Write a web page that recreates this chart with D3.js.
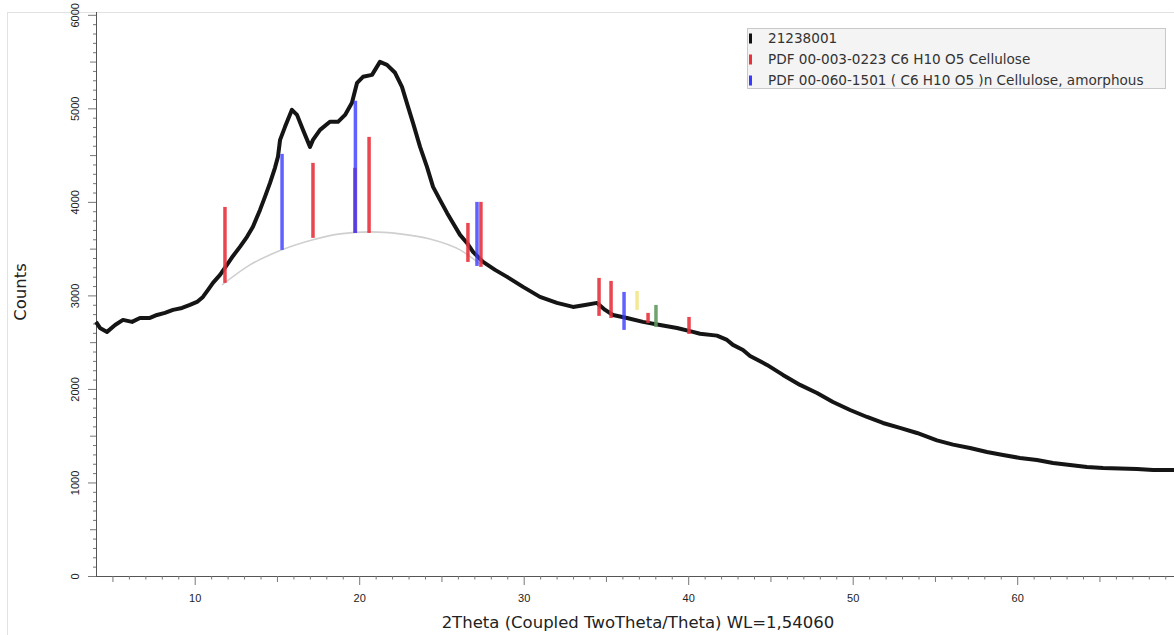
<!DOCTYPE html>
<html>
<head>
<meta charset="utf-8">
<script src="https://cdn.jsdelivr.net/npm/d3@7/dist/d3.min.js"></script>
<style>
  body { margin: 0; background: #fff; }
  svg { display: block; font-family: 'DejaVu Sans', Verdana, sans-serif; }
</style>
</head>
<body>
<div id="chart"></div>
<script>
// measured pattern (2theta in degrees, counts)
const twoTheta = [4.0, 4.24, 4.67, 5.16, 5.64, 6.19, 6.67, 7.28, 7.71, 8.19, 8.68, 9.23, 9.71, 10.14, 10.5, 10.81,
  11.11, 11.54, 11.96, 12.33, 12.75, 13.18, 13.54, 13.97, 14.27, 14.58, 14.88, 15.06, 15.19, 15.49, 15.91, 16.22,
  16.58, 17.01, 17.19, 17.62, 18.22, 18.71, 19.14, 19.56, 19.87, 20.23, 20.78, 21.26, 21.69, 22.18, 22.6, 22.97,
  23.27, 23.7, 24.12, 24.49, 24.91, 25.34, 25.7, 26.13, 26.55, 26.92, 27.53, 28.26, 28.99, 29.96, 30.99, 32.02,
  33.0, 33.73, 34.46, 34.95, 35.43, 36.28, 37.25, 38.29, 39.32, 40.29, 40.72, 41.75, 42.36, 42.72, 43.33, 43.76,
  44.79, 45.76, 46.8, 47.83, 48.8, 49.84, 50.87, 51.84, 52.87, 53.91, 55.12, 56.1, 57.13, 58.16, 59.14,
  60.17, 61.2, 62.18, 63.21, 64.24, 65.22, 66.25, 67.28, 68.26, 69.29, 70.0];
const counts = [2717, 2652, 2610, 2684, 2738, 2717, 2759, 2759, 2791, 2813, 2845, 2866, 2898, 2930, 2984, 3059,
  3134, 3219, 3326, 3422, 3519, 3626, 3733, 3914, 4053, 4203, 4364, 4481, 4663, 4802, 4984, 4930,
  4770, 4588, 4663, 4770, 4856, 4856, 4930, 5059, 5273, 5337, 5358, 5497, 5465, 5380, 5230, 5016,
  4845, 4588, 4374, 4160, 4021, 3882, 3775, 3647, 3561, 3465, 3358, 3273, 3198, 3091, 2984, 2920,
  2877, 2898, 2920, 2845, 2791, 2759, 2717, 2684, 2652, 2610, 2590, 2570, 2524, 2471, 2417, 2353,
  2257, 2150, 2043, 1957, 1861, 1775, 1700, 1636, 1583, 1529, 1450, 1405, 1369, 1326, 1294,
  1262, 1241, 1209, 1187, 1166, 1155, 1150, 1144, 1134, 1134, 1130];

// amorphous background hump
const bgTheta = [11.66, 13.36, 15.31, 17.19, 18.83, 20.66, 22.48, 24.3, 26.13, 27.34];
const bgCounts = [3112, 3326, 3487, 3594, 3658, 3679, 3658, 3604, 3487, 3337];

// PDF 00-003-0223 Cellulose sticks
const cellPos = [11.84, 17.19, 19.74, 20.6, 26.61, 27.4, 34.58, 35.31, 37.56, 40.05];
const cellBase = [3134, 3615, 3668, 3668, 3358, 3305, 2781, 2759, 2706, 2588];
const cellTop = [3946, 4417, 4364, 4695, 3775, 4000, 3187, 3155, 2813, 2770];

// PDF 00-060-1501 amorphous cellulose sticks
const amorPos = [15.31, 19.77, 27.16, 36.1];
const amorBase = [3487, 3668, 3315, 2631];
const amorTop = [4513, 5080, 4000, 3037];

// faint extra sticks
const extraPos = [36.89, 38.04];
const extraBase = [2845, 2663];
const extraTop = [3048, 2898];
const extraColors = ['#f3e58a', '#5f9a5f'];

const legendLabels = ['21238001', 'PDF 00-003-0223 C6 H10 O5 Cellulose',
  'PDF 00-060-1501 ( C6 H10 O5 )n Cellulose, amorphous'];
const legendColors = ['#111', '#e8323c', '#3a3aff'];

const xTitle = '2Theta (Coupled TwoTheta/Theta) WL=1,54060';
const yTitle = 'Counts';

class XrdChart {
  constructor(_config) {
    this.config = {
      parentElement: _config.parentElement,
      containerWidth: 1174,
      containerHeight: 635,
      margin: { top: 12, left: 96, bottom: 59 }
    };
    this.initVis();
  }

  initVis() {
    const vis = this;
    vis.height = vis.config.containerHeight - vis.config.margin.top - vis.config.margin.bottom;

    vis.svg = d3.select(vis.config.parentElement).append('svg')
      .attr('width', vis.config.containerWidth)
      .attr('height', vis.config.containerHeight);

    // outer frame (runs off the right / bottom edge)
    vis.svg.append('rect')
      .attr('x', 7.5).attr('y', 12.5)
      .attr('width', 1400).attr('height', 800)
      .attr('fill', 'none').attr('stroke', '#e2e2e2');

    vis.chartArea = vis.svg.append('g')
      .attr('transform', `translate(${vis.config.margin.left},${vis.config.margin.top})`);

    vis.xScale = d3.scaleLinear().domain([4, 70]).range([0, 66 * 16.45]);
    vis.yScale = d3.scaleLinear().domain([0, 6030]).range([vis.height, 0]);

    vis.renderVis();
  }

  renderVis() {
    const vis = this;
    const x = vis.xScale, y = vis.yScale;

    // axes
    const yg = vis.chartArea.append('g')
      .call(d3.axisLeft(y).tickValues(d3.range(0, 6001, 100)).tickSizeOuter(0)
        .tickFormat(d => d % 1000 === 0 ? d : ''));
    yg.select('.domain').attr('stroke', '#555').attr('d', `M0.5,${vis.height + 1}V0`);
    yg.selectAll('.tick line')
      .attr('stroke', '#777')
      .attr('x2', d => d % 1000 === 0 ? -8 : (d % 500 === 0 ? -6 : -3));
    yg.selectAll('.tick text')
      .attr('transform', 'rotate(-90)')
      .attr('x', 0).attr('y', -21).attr('dy', '0.35em')
      .attr('text-anchor', 'middle')
      .attr('font-size', 11).attr('fill', '#222');

    const xg = vis.chartArea.append('g')
      .attr('transform', `translate(0,${vis.height})`)
      .call(d3.axisBottom(x).tickValues(d3.range(5, 71, 1)).tickSizeOuter(0)
        .tickFormat(d => d % 10 === 0 ? d : ''));
    xg.select('.domain').attr('stroke', '#555');
    xg.selectAll('.tick line')
      .attr('stroke', '#777')
      .attr('y2', d => d % 10 === 0 ? 9 : (d % 5 === 0 ? 6 : 3.5));
    xg.selectAll('.tick text')
      .attr('y', 18).attr('font-size', 11).attr('fill', '#222');

    vis.svg.append('text')
      .attr('x', 638).attr('y', 628)
      .attr('text-anchor', 'middle')
      .attr('font-size', 16.5).attr('fill', '#222')
      .text(xTitle);

    vis.svg.append('text')
      .attr('transform', 'translate(20,292) rotate(-90)')
      .attr('text-anchor', 'middle').attr('dy', '0.35em')
      .attr('font-size', 16.5).attr('fill', '#222')
      .text(yTitle);

    // background hump
    vis.chartArea.append('path')
      .datum(d3.zip(bgTheta, bgCounts))
      .attr('fill', 'none')
      .attr('stroke', '#cfcfcf')
      .attr('stroke-width', 1.6)
      .attr('d', d3.line().x(d => x(d[0])).y(d => y(d[1])).curve(d3.curveMonotoneX));

    // measured scan
    vis.chartArea.append('path')
      .datum(d3.zip(twoTheta, counts))
      .attr('fill', 'none')
      .attr('stroke', '#151515')
      .attr('stroke-width', 4)
      .attr('stroke-linejoin', 'round')
      .attr('d', d3.line().x(d => x(d[0])).y(d => y(d[1])));

    // reference sticks
    const sticks = (pos, base, top, color, opacity) => {
      vis.chartArea.append('g').selectAll('line')
        .data(d3.range(pos.length))
        .join('line')
        .attr('x1', i => x(pos[i])).attr('x2', i => x(pos[i]))
        .attr('y1', i => y(base[i])).attr('y2', i => y(top[i]))
        .attr('stroke', typeof color === 'function' ? (i => color(i)) : color)
        .attr('stroke-opacity', opacity)
        .attr('stroke-width', 3.5);
    };
    sticks(extraPos, extraBase, extraTop, i => extraColors[i], 0.9);
    sticks(cellPos, cellBase, cellTop, legendColors[1], 0.9);
    sticks(amorPos, amorBase, amorTop, legendColors[2], 0.8);

    // legend
    const lg = vis.svg.append('g').attr('transform', 'translate(747,28)');
    lg.append('rect')
      .attr('x', 0.5).attr('y', 0.5)
      .attr('width', 418).attr('height', 60)
      .attr('fill', '#f4f4f4').attr('stroke', '#c9c9c9');
    const rows = lg.selectAll('.row')
      .data(legendLabels)
      .join('g')
      .attr('class', 'row')
      .attr('transform', (d, i) => `translate(0,${10.5 + i * 21})`);
    rows.append('rect')
      .attr('x', 2).attr('y', -5)
      .attr('width', 3).attr('height', 10)
      .attr('fill', (d, i) => legendColors[i]);
    rows.append('text')
      .attr('x', 21).attr('dy', '0.35em')
      .attr('font-size', 13.6).attr('fill', '#333')
      .text(d => d);
  }
}

new XrdChart({ parentElement: '#chart' });
</script>
</body>
</html>
